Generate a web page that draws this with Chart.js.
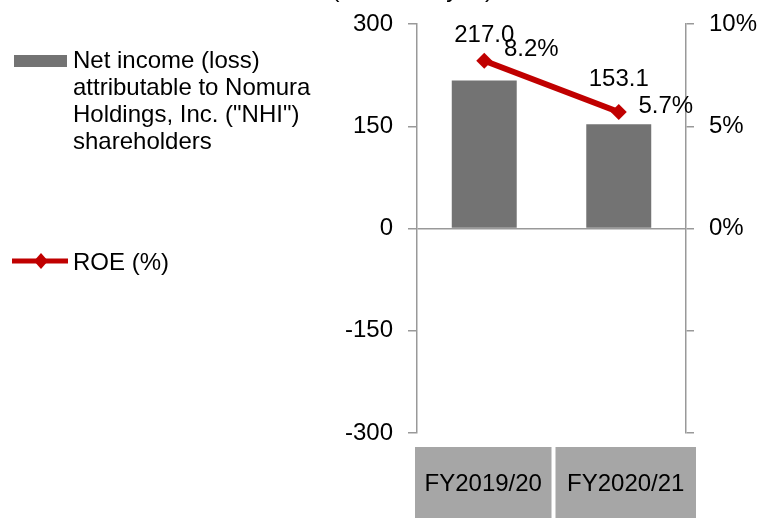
<!DOCTYPE html>
<html>
<head>
<meta charset="utf-8">
<script src="https://cdn.jsdelivr.net/npm/chart.js@4/dist/chart.umd.min.js"></script>
<style>
  html, body { margin: 0; padding: 0; background: #ffffff; }
  #wrap { width: 758px; height: 518px; position: relative; }
</style>
</head>
<body>
<div id="wrap"><canvas id="c" width="758" height="518"></canvas></div>
<script>
// ---- data ----
const categories = ['FY2019/20', 'FY2020/21'];
const netIncome = [217.0, 153.1];        // billions of yen
const roe = [8.2, 5.7];                   // %
const leftTicks = [-300, -150, 0, 150, 300];
const rightTicks = [-10, -5, 0, 5, 10];
const netIncomeLabel = ['Net income (loss)', 'attributable to Nomura', 'Holdings, Inc. ("NHI")', 'shareholders'];
const roeLabel = 'ROE (%)';
const leftUnit = '(billions of yen)';
const rightUnit = '(%)';

const FONT = '"Liberation Sans", Arial, sans-serif';
const BAR_COLOR = '#737373';
const LINE_COLOR = '#C00000';
const AXIS_COLOR = '#999999';
const BOX_COLOR = '#A6A6A6';

const customDraw = {
  id: 'customDraw',
  afterDatasetsDraw(chart) {
    const ctx = chart.ctx;
    ctx.save();
    ctx.font = '24px ' + FONT;
    ctx.fillStyle = '#000';
    ctx.textAlign = 'center';
    ctx.textBaseline = 'middle';
    // bar value labels
    chart.getDatasetMeta(0).data.forEach((el, i) => {
      ctx.fillText(netIncome[i].toFixed(1), el.x, el.y - 45);
    });
    // ROE labels
    chart.getDatasetMeta(1).data.forEach((el, i) => {
      ctx.fillText(roe[i].toFixed(1) + '%', el.x + 47, el.y - (i === 0 ? 11 : 6));
    });
    ctx.restore();
  },
  afterDraw(chart) {
    const ctx = chart.ctx;
    const x = chart.scales.x;
    const area = chart.chartArea;
    ctx.save();
    // category boxes + labels
    const mid = (x.getPixelForValue(0) + x.getPixelForValue(1)) / 2;
    const boxes = [[area.left - 2, mid], [mid + 4, area.right + 10]];
    const top = 447;
    ctx.font = '24px ' + FONT;
    categories.forEach((c, i) => {
      const [x0, x1] = boxes[i];
      ctx.fillStyle = BOX_COLOR;
      ctx.fillRect(x0, top, x1 - x0, chart.height - top);
      ctx.fillStyle = '#000';
      ctx.textAlign = 'center';
      ctx.textBaseline = 'alphabetic';
      ctx.fillText(c, (x0 + x1) / 2, 491);
    });
    // legend
    ctx.fillStyle = BAR_COLOR;
    ctx.fillRect(14, 55, 53, 12);
    ctx.fillStyle = '#000';
    ctx.textAlign = 'left';
    netIncomeLabel.forEach((t, i) => ctx.fillText(t, 73, 68 + i * 27));
    ctx.strokeStyle = LINE_COLOR;
    ctx.lineWidth = 5;
    ctx.beginPath(); ctx.moveTo(12, 261); ctx.lineTo(68, 261); ctx.stroke();
    ctx.fillStyle = LINE_COLOR;
    ctx.beginPath();
    ctx.moveTo(41, 253); ctx.lineTo(48, 261); ctx.lineTo(41, 269); ctx.lineTo(34, 261); ctx.closePath(); ctx.fill();
    ctx.fillStyle = '#000';
    ctx.fillText(roeLabel, 73, 270);
    // unit captions (cut off at top in the reference)
    ctx.textAlign = 'right';
    ctx.fillText(leftUnit, 493, -3);
    ctx.textAlign = 'left';
    ctx.fillText(rightUnit, 755, -3);
    ctx.restore();
  }
};

function fixPad(s, w) {
  s.width = w;
  s.paddingTop = 0;
  s.paddingBottom = 0;
}

new Chart(document.getElementById('c'), {
  type: 'bar',
  data: {
    labels: categories,
    datasets: [
      {
        type: 'bar',
        label: netIncomeLabel.join(' '),
        data: netIncome,
        backgroundColor: BAR_COLOR,
        barPercentage: 0.483,
        categoryPercentage: 1.0,
        yAxisID: 'y',
        order: 1
      },
      {
        type: 'line',
        label: roeLabel,
        data: roe,
        borderColor: LINE_COLOR,
        backgroundColor: LINE_COLOR,
        borderWidth: 6,
        pointStyle: 'rectRot',
        pointRadius: 8,
        pointBorderWidth: 0,
        yAxisID: 'y1',
        order: 0
      }
    ]
  },
  options: {
    responsive: false,
    animation: false,
    devicePixelRatio: 1,
    layout: { padding: { top: 24, bottom: 0, left: 0, right: 0 } },
    plugins: { legend: { display: false }, tooltip: { enabled: false } },
    scales: {
      x: {
        type: 'category',
        offset: true,
        grid: { display: false },
        border: { display: false },
        ticks: { display: false },
        afterFit: s => { s.height = 85; s.paddingLeft = 0; s.paddingRight = 0; }
      },
      y: {
        position: 'left',
        min: -300, max: 300,
        afterBuildTicks: s => { s.ticks = leftTicks.map(v => ({ value: v })); },
        afterFit: s => fixPad(s, 417),
        border: { display: true, color: AXIS_COLOR, width: 1.5 },
        grid: {
          drawOnChartArea: true,
          color: c => (c.tick && c.tick.value === 0) ? AXIS_COLOR : 'rgba(0,0,0,0)',
          lineWidth: 1.5,
          tickColor: AXIS_COLOR,
          tickLength: 9
        },
        ticks: { font: { size: 24, family: FONT }, color: '#000', padding: 15 }
      },
      y1: {
        position: 'right',
        min: -10, max: 10,
        afterBuildTicks: s => { s.ticks = rightTicks.map(v => ({ value: v })); },
        afterFit: s => fixPad(s, 72),
        border: { display: true, color: AXIS_COLOR, width: 1.5 },
        grid: { drawOnChartArea: false, tickColor: AXIS_COLOR, tickLength: 8, lineWidth: 1.5 },
        ticks: {
          font: { size: 24, family: FONT }, color: '#000', padding: 15,
          callback: v => v >= 0 ? v + '%' : ''
        }
      }
    }
  },
  plugins: [customDraw]
});
</script>
</body>
</html>
